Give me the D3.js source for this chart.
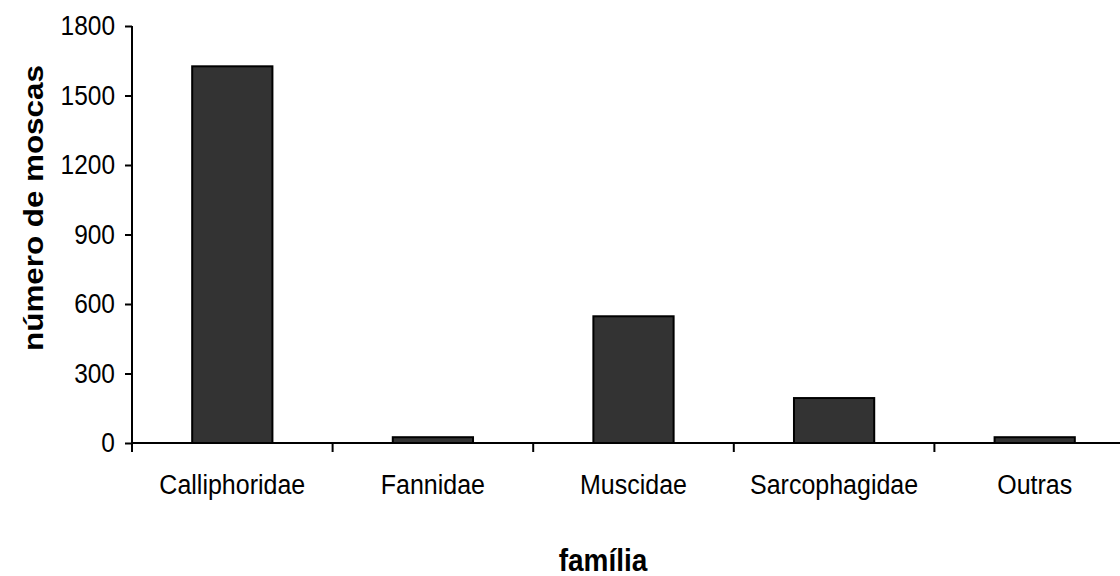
<!DOCTYPE html>
<html>
<head>
<meta charset="utf-8">
<script src="https://cdn.jsdelivr.net/npm/d3@7"></script>
<style>
  html, body { margin: 0; padding: 0; background: #fff; }
  svg { display: block; }
  text { font-family: "Liberation Sans", Arial, sans-serif; fill: #000; }
</style>
</head>
<body>
<svg id="chart" width="1120" height="576"></svg>
<script>
// Fly counts by family
const families = ["Calliphoridae", "Fannidae", "Muscidae", "Sarcophagidae", "Outras"];
const counts = [1626, 25, 547, 194, 25];
const yTicks = [0, 300, 600, 900, 1200, 1500, 1800];
const xTitle = "família";
const yTitle = "número de moscas";

const svg = d3.select("#chart");
const plotLeft = 132, plotTop = 26, plotBottom = 443;
const plotRight = 1135; // plot extends past the visible edge
const stretch = 1.12;   // text is drawn slightly taller than wide

const x = d3.scaleBand()
  .domain(families)
  .range([plotLeft, plotRight])
  .paddingInner(0.6)
  .paddingOuter(0.3);

const y = d3.scaleLinear().domain([0, 1800]).range([plotBottom, plotTop]);

// bars
svg.append("g")
  .selectAll("rect")
  .data(families)
  .join("rect")
  .attr("x", d => x(d))
  .attr("width", x.bandwidth())
  .attr("y", (d, i) => y(counts[i]))
  .attr("height", (d, i) => y(0) - y(counts[i]))
  .attr("fill", "#333333")
  .attr("stroke", "#000")
  .attr("stroke-width", 2);

// y axis
const yAxis = svg.append("g")
  .attr("transform", `translate(${plotLeft},0)`)
  .call(d3.axisLeft(y).tickValues(yTicks).tickSize(7).tickPadding(10).tickFormat(d3.format("d")));
yAxis.select(".domain").attr("stroke", "#000").attr("stroke-width", 2).attr("d", `M0,${plotTop}V${plotBottom}`);
yAxis.selectAll(".tick line").attr("stroke", "#000").attr("stroke-width", 2);
yAxis.selectAll(".tick text")
  .attr("font-size", 24.5)
  .attr("font-family", "'Liberation Sans', Arial, sans-serif")
  .attr("fill", "#000")
  .attr("dy", "0.31em")
  .attr("transform", `scale(1,${stretch})`);

// x axis: baseline plus boundary ticks between categories
const step = x.step();
const gap = step - x.bandwidth();
const boundaries = families.map(f => x(f) - gap / 2);

svg.append("line")
  .attr("x1", plotLeft).attr("x2", plotRight)
  .attr("y1", y(0)).attr("y2", y(0))
  .attr("stroke", "#000").attr("stroke-width", 2);

svg.append("g")
  .selectAll("line")
  .data(boundaries)
  .join("line")
  .attr("x1", d => d).attr("x2", d => d)
  .attr("y1", y(0)).attr("y2", y(0) + 9)
  .attr("stroke", "#000").attr("stroke-width", 2);

svg.append("g")
  .selectAll("text")
  .data(families)
  .join("text")
  .attr("transform", d => `translate(${x(d) + x.bandwidth() / 2},494) scale(1,${stretch})`)
  .attr("text-anchor", "middle")
  .attr("font-size", 25)
  .text(d => d);

// axis titles
svg.append("text")
  .attr("transform", `translate(603,571) scale(1,${stretch})`)
  .attr("text-anchor", "middle")
  .attr("font-size", 28)
  .attr("font-weight", "bold")
  .text(xTitle);

svg.append("text")
  .attr("transform", `translate(43,208) scale(1,${stretch}) rotate(-90)`)
  .attr("text-anchor", "middle")
  .attr("font-size", 28)
  .attr("font-weight", "bold")
  .text(yTitle);
</script>
</body>
</html>
